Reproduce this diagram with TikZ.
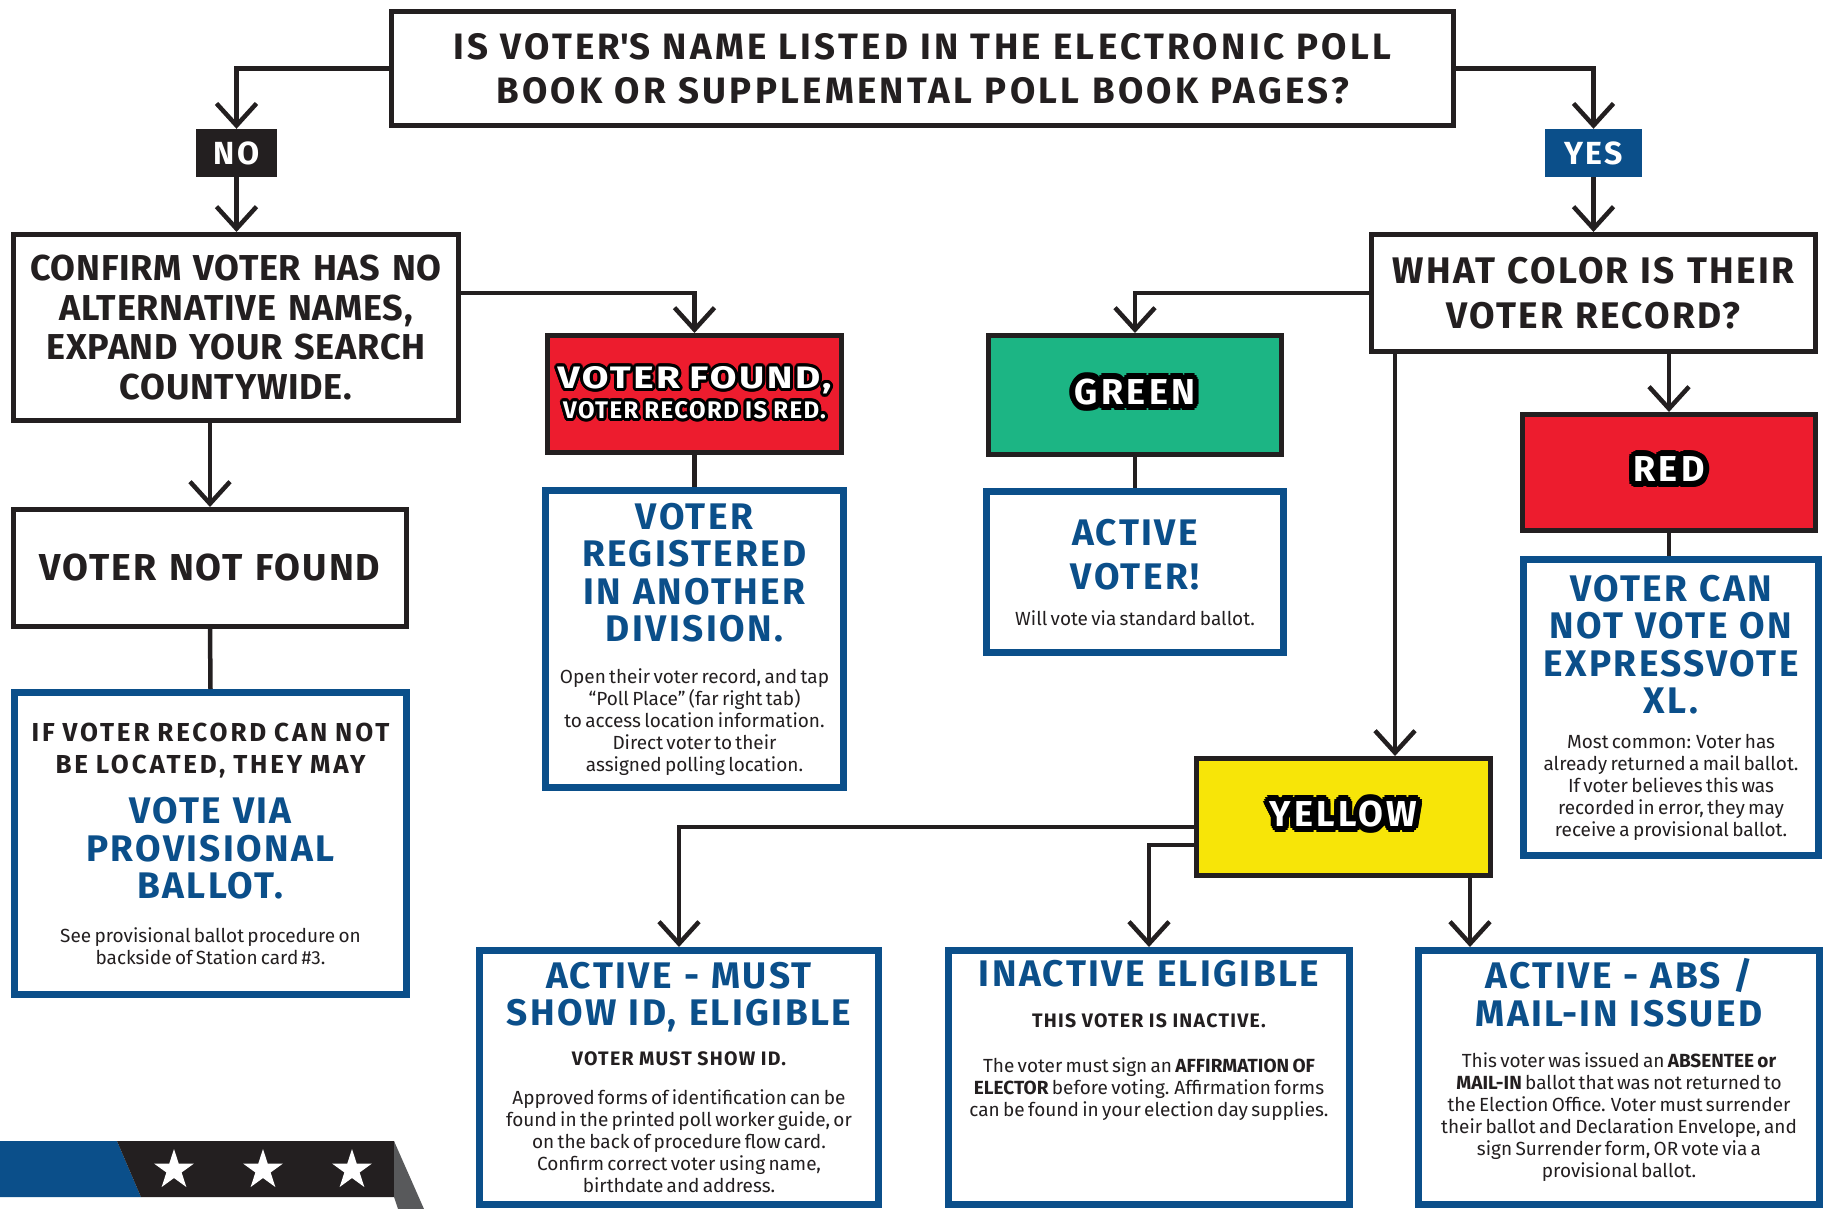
\documentclass[tikz,border=0pt]{standalone}
\usepackage{fontspec}
\setmainfont{Fira Sans}
\newfontfamily\widefamily{Fira Sans}[FakeStretch=1.25]
\usepackage{tikz}
\usetikzlibrary{arrows.meta}
\usetikzlibrary{shapes.geometric}
\usepackage[copies]{contour}
\contournumber{16}

\definecolor{vblue}{HTML}{0B4F8A}
\definecolor{vred}{HTML}{ED1C2E}
\definecolor{vgreen}{HTML}{1CB584}
\definecolor{vyellow}{HTML}{F7E508}
\definecolor{vblack}{HTML}{231F20}
\definecolor{vgray}{HTML}{58595B}

\newcommand{\fq}{\fontsize{36.7}{44}\selectfont\bfseries\addfontfeature{LetterSpace=9}\spaceskip=0.3em\relax}
\newcommand{\ftag}{\fontsize{32}{32}\selectfont\bfseries\addfontfeature{LetterSpace=8}}
\newcommand{\fconf}{\fontsize{36}{39.6}\selectfont\bfseries\addfontfeature{LetterSpace=2}}
\newcommand{\fwhat}{\fontsize{37}{45}\selectfont\bfseries\addfontfeature{LetterSpace=6}}
\newcommand{\fnf}{\fontsize{37.5}{40}\selectfont\bfseries\addfontfeature{LetterSpace=5.3}}
\newcommand{\fif}{\fontsize{26}{32.5}\selectfont\bfseries\addfontfeature{LetterSpace=11}\spaceskip=0.3em\relax}
\newcommand{\fhead}{\fontsize{37}{37.5}\selectfont\bfseries\addfontfeature{LetterSpace=6.5}\spaceskip=0.33em\relax\color{vblue}}
\newcommand{\fbody}{\fontsize{19}{22}\selectfont}
\newcommand{\fnote}{\fontsize{19.5}{22}\selectfont\bfseries\addfontfeature{LetterSpace=6.5}\spaceskip=0.28em\relax}
\newcommand{\fcol}{\fontsize{36}{36}\selectfont\bfseries\addfontfeature{LetterSpace=9}\contourlength{6pt}}
\newcommand{\fvf}{\widefamily\fontsize{31}{30}\selectfont\bfseries\addfontfeature{LetterSpace=8}\spaceskip=0.3em\relax\contourlength{3pt}}
\newcommand{\fvfs}{\fontsize{24}{30}\selectfont\bfseries\addfontfeature{LetterSpace=6}\spaceskip=0.25em\relax\contourlength{3pt}}

\begin{document}
\begin{tikzpicture}[x=1pt,y=-1pt]
\tikzstyle{blackbox}=[rectangle,align=center,draw=vblack,line width=5pt,fill=white,inner sep=0pt,text=vblack]
\tikzstyle{bluebox}=[rectangle,align=center,draw=vblue,line width=7pt,fill=white,inner sep=0pt,text=vblack]
\tikzstyle{colorbox}=[blackbox,text=white]
\tikzstyle{tag}=[rectangle,inner sep=0pt,text=white,minimum height=48pt,font=\ftag]
\tikzstyle{link}=[draw=vblack,line width=4.5pt]
\tikzstyle{arr}=[link,-{Straight Barb[length=22pt,width=40pt]}]
\tikzstyle{starmark}=[star,star points=5,star point ratio=2.618,minimum size=42pt,inner sep=0pt,fill=white]

\useasboundingbox (0,0) rectangle (1827,1209);

% top question and its two answers
\node[blackbox,minimum width=1062pt,minimum height=114pt,text width=1050pt,font=\fq] at(922.5, 68.5) (q1) {IS VOTER\textquotesingle S NAME LISTED IN THE ELECTRONIC POLL\\BOOK OR SUPPLEMENTAL POLL BOOK PAGES?};
\node[tag,fill=vblack,minimum width=81pt] at(236.5, 153) (no) {NO};
\node[tag,fill=vblue,minimum width=97pt] at(1593.5, 153) (yes) {YES};

% left branch
\node[blackbox,minimum width=445pt,minimum height=186pt,text width=440pt,font=\fconf] at(236, 327.5) (confirm) {CONFIRM VOTER HAS NO\\ALTERNATIVE NAMES,\\EXPAND YOUR SEARCH\\COUNTYWIDE.};
\node[blackbox,minimum width=393pt,minimum height=117pt,text width=385pt,font=\fnf] at(210, 568) (vnf) {VOTER NOT FOUND};
\node[bluebox,minimum width=392pt,minimum height=302pt,text width=385pt] at(210.5, 843.5) (prov) {{\fif IF VOTER RECORD CAN NOT\\BE LOCATED, THEY MAY\par}\vspace{12.5pt}{\fhead VOTE VIA\\PROVISIONAL\\BALLOT.\par}\vspace{21.5pt}{\fbody See provisional ballot procedure on\\backside of Station card \#3.\par}};
\node[colorbox,fill=vred,minimum width=294pt,minimum height=117pt,text width=292pt] at(694.5, 394) (vfound) {{\fvf\contour{black}{VOTER FOUND,}\par}{\fvfs\contour{black}{VOTER RECORD IS RED.}\par}};
\node[bluebox,minimum width=298pt,minimum height=297pt,text width=292pt] at(694.5, 639) (reg) {{\fhead VOTER\\REGISTERED\\IN ANOTHER\\DIVISION.\par}\vspace{19.5pt}{\fbody Open their voter record, and tap\\``Poll Place'' (far right tab)\\to access location information.\\Direct voter to their\\assigned polling location.\par}};

% right branch
\node[blackbox,minimum width=444pt,minimum height=117pt,text width=440pt,font=\fwhat] at(1593.5, 293) (what) {WHAT COLOR IS THEIR\\VOTER RECORD?};
\node[colorbox,fill=vgreen,minimum width=293pt,minimum height=119pt,font=\fcol] at(1135, 395) (green) {\contour{black}{GREEN}};
\node[bluebox,minimum width=297pt,minimum height=161pt,text width=290pt] at(1135, 572) (activev) {{\fhead ACTIVE\\[6.5pt]VOTER!\par}\vspace{14pt}{\fbody Will vote via standard ballot.\par}};
\node[colorbox,fill=vred,minimum width=293pt,minimum height=116pt,font=\fcol] at(1669, 472.5) (red) {\contour{black}{RED}};
\node[bluebox,minimum width=295pt,minimum height=296pt,text width=290pt] at(1671, 707.5) (vcn) {{\fhead VOTER CAN\\NOT VOTE ON\\EXPRESSVOTE\\XL.\par}\vspace{12.5pt}{\fbody Most common: Voter has\\already returned a mail ballot.\\If voter believes this was\\recorded in error, they may\\receive a provisional ballot.\par}};
\node[colorbox,fill=vyellow,minimum width=294pt,minimum height=117pt,font=\fcol] at(1343.5, 817) (yellow) {\contour{black}{YELLOW}};
\coordinate (yin) at (1395, 0);

% yellow outcomes
\node[bluebox,minimum width=399pt,minimum height=254pt,text width=392pt] at(679, 1077.5) (amust) {{\fhead ACTIVE - MUST\\SHOW ID, ELIGIBLE\par}\vspace{18pt}{\fnote VOTER MUST SHOW ID.\par}\vspace{17pt}{\fbody Approved forms of identification can be\\found in the printed poll worker guide, or\\on the back of procedure flow card.\\Confirm correct voter using name,\\birthdate and address.\par}};
\node[bluebox,minimum width=401pt,minimum height=254pt,text width=394pt] at(1149, 1077.5) (inact) {{\fhead INACTIVE ELIGIBLE\par}\vspace{19pt}{\fnote THIS VOTER IS INACTIVE.\par}\vspace{23pt}{\fbody The voter must sign an \textbf{AFFIRMATION OF}\\\textbf{ELECTOR} before voting. Affirmation forms\\can be found in your election day supplies.\par}\vspace{75pt}};
\node[bluebox,minimum width=401pt,minimum height=254pt,text width=394pt] at(1619, 1077.5) (aabs) {{\fhead ACTIVE - ABS /\\MAIL-IN ISSUED\par}\vspace{19pt}{\fbody This voter was issued an \textbf{ABSENTEE or}\\\textbf{MAIL-IN} ballot that was not returned to\\the Election Office. Voter must surrender\\their ballot and Declaration Envelope, and\\sign Surrender form, OR vote via a\\provisional ballot.\par}\vspace{15pt}};

% connectors
\draw[arr] (q1.west) -| (no.north);
\draw[arr] (no.south) -- (no.south |- confirm.north);
\draw[arr] (q1.east) -| (yes.north);
\draw[arr] (yes.south) -- (yes.south |- what.north);
\draw[arr] ([yshift=34.5pt]confirm.east) -| (vfound.north);
\draw[arr] (vnf.north |- confirm.south) -- (vnf.north);
\draw[link] (vnf.south) -- (prov.north);
\draw[link] (vfound.south) -- (vfound.south |- reg.north);
\draw[arr] (what.west) -| (green.north);
\draw[link] (green.south) -- (green.south |- activev.north);
\draw[arr] (what.south -| yin) -- (yellow.north -| yin);
\draw[arr] (red.north |- what.south) -- (red.north);
\draw[link] (red.south) -- (red.south |- vcn.north);
\draw[arr] ([yshift=-10pt]yellow.west) -| (amust.north);
\draw[arr] ([yshift=-28pt]yellow.west) -| (inact.north);
\draw[arr] ([xshift=126.5pt]yellow.south) -- ([xshift=126.5pt]yellow.south |- aabs.north);

% banner with stars
\fill[vblue] (0,1141) -- (117,1141) -- (141,1197) -- (0,1197) -- cycle;
\fill[vblack] (117,1141) -- (394,1141) -- (394,1197) -- (141,1197) -- cycle;
\fill[vgray] (394,1141) -- (424,1209) -- (398,1209) -- (394,1197) -- cycle;
\foreach \i/\x in {1/174,2/263,3/352}
  \node[starmark] at(\x, 1170) (star\i) {};
\end{tikzpicture}
\end{document}
